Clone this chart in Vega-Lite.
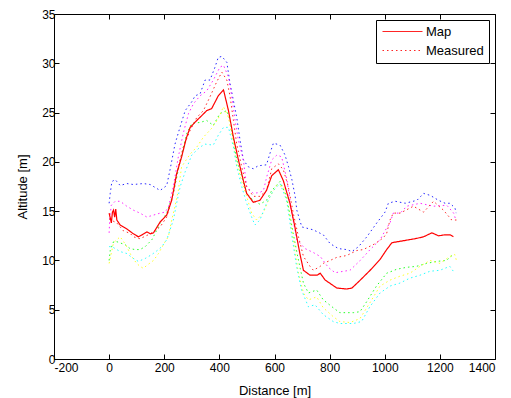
{
  "$schema": "https://vega.github.io/schema/vega-lite/v6.json",
  "width": 441,
  "height": 345,
  "autosize": {"type": "none"},
  "padding": {"left": 54, "top": 14, "right": 16, "bottom": 39},
  "background": "white",
  "config": {
    "view": {"stroke": "black", "strokeWidth": 1},
    "axis": {
      "domain": false, "grid": false,
      "tickSize": -5, "tickColor": "black", "tickWidth": 1,
      "labelFont": "Liberation Sans", "labelFontSize": 12, "labelColor": "black",
      "titleFont": "Liberation Sans", "titleFontSize": 13, "titleFontWeight": "normal", "titleColor": "black"
    },
    "legend": {
      "orient": "top-right", "offset": 6,
      "strokeColor": "black", "fillColor": "white", "padding": 5,
      "symbolType": "M-1,0H7", "symbolSize": 100,
      "symbolStrokeColor": "#ff0000", "symbolFillColor": "transparent", "symbolStrokeWidth": 1,
      "labelOffset": 32, "labelFont": "Liberation Sans", "labelFontSize": 13, "labelColor": "black",
      "rowPadding": 5
    }
  },
  "resolve": {"axis": {"x": "independent", "y": "independent"}},
  "layer": [
    {
      "data": {"values": [
        {"s":"m1","d":0,"a":15.8},{"s":"m1","d":4,"a":16.8},{"s":"m1","d":10,"a":18.0},{"s":"m1","d":22,"a":18.2},{"s":"m1","d":40,"a":17.6},{"s":"m1","d":64,"a":17.8},{"s":"m1","d":88,"a":17.7},{"s":"m1","d":124,"a":17.8},{"s":"m1","d":149,"a":17.7},{"s":"m1","d":173,"a":17.3},{"s":"m1","d":185,"a":17.1},{"s":"m1","d":209,"a":17.6},{"s":"m1","d":221,"a":19.2},{"s":"m1","d":239,"a":21.8},{"s":"m1","d":257,"a":23.5},{"s":"m1","d":276,"a":25.2},{"s":"m1","d":300,"a":26.1},{"s":"m1","d":312,"a":26.7},{"s":"m1","d":330,"a":26.9},{"s":"m1","d":348,"a":28.3},{"s":"m1","d":366,"a":28.3},{"s":"m1","d":384,"a":29.6},{"s":"m1","d":396,"a":30.6},{"s":"m1","d":409,"a":30.7},{"s":"m1","d":427,"a":30.1},{"s":"m1","d":439,"a":27.9},{"s":"m1","d":451,"a":26.2},{"s":"m1","d":463,"a":24.5},{"s":"m1","d":475,"a":22.2},{"s":"m1","d":487,"a":20.2},{"s":"m1","d":505,"a":19.5},{"s":"m1","d":523,"a":19.3},{"s":"m1","d":541,"a":19.6},{"s":"m1","d":571,"a":19.7},{"s":"m1","d":584,"a":20.9},{"s":"m1","d":596,"a":21.9},{"s":"m1","d":620,"a":21.7},{"s":"m1","d":638,"a":20.7},{"s":"m1","d":651,"a":19.5},{"s":"m1","d":663,"a":18.2},{"s":"m1","d":675,"a":16.5},{"s":"m1","d":681,"a":15.1},{"s":"m1","d":699,"a":13.4},{"s":"m1","d":741,"a":13.1},{"s":"m1","d":777,"a":12.6},{"s":"m1","d":802,"a":11.7},{"s":"m1","d":832,"a":11.2},{"s":"m1","d":862,"a":11.1},{"s":"m1","d":881,"a":10.9},{"s":"m1","d":905,"a":11.4},{"s":"m1","d":935,"a":12.4},{"s":"m1","d":971,"a":13.8},{"s":"m1","d":1001,"a":14.9},{"s":"m1","d":1013,"a":15.8},{"s":"m1","d":1038,"a":16.0},{"s":"m1","d":1074,"a":15.8},{"s":"m1","d":1117,"a":16.1},{"s":"m1","d":1141,"a":16.8},{"s":"m1","d":1165,"a":16.6},{"s":"m1","d":1195,"a":16.1},{"s":"m1","d":1219,"a":15.8},{"s":"m1","d":1237,"a":15.8},{"s":"m1","d":1255,"a":15.3},{"s":"m1","d":1259,"a":14.8},
        {"s":"m2","d":0,"a":12.8},{"s":"m2","d":3,"a":14.5},{"s":"m2","d":8,"a":15.6},{"s":"m2","d":22,"a":16.0},{"s":"m2","d":40,"a":16.0},{"s":"m2","d":64,"a":15.5},{"s":"m2","d":88,"a":15.1},{"s":"m2","d":112,"a":14.8},{"s":"m2","d":137,"a":14.4},{"s":"m2","d":161,"a":14.6},{"s":"m2","d":185,"a":14.8},{"s":"m2","d":203,"a":14.9},{"s":"m2","d":215,"a":15.4},{"s":"m2","d":233,"a":17.5},{"s":"m2","d":251,"a":20.5},{"s":"m2","d":269,"a":22.9},{"s":"m2","d":288,"a":24.9},{"s":"m2","d":306,"a":25.9},{"s":"m2","d":330,"a":26.7},{"s":"m2","d":354,"a":27.2},{"s":"m2","d":378,"a":28.3},{"s":"m2","d":402,"a":29.6},{"s":"m2","d":415,"a":29.8},{"s":"m2","d":433,"a":28.6},{"s":"m2","d":445,"a":26.6},{"s":"m2","d":457,"a":24.2},{"s":"m2","d":469,"a":22.2},{"s":"m2","d":487,"a":20.2},{"s":"m2","d":499,"a":17.5},{"s":"m2","d":523,"a":16.8},{"s":"m2","d":547,"a":16.9},{"s":"m2","d":560,"a":17.1},{"s":"m2","d":572,"a":18.5},{"s":"m2","d":590,"a":20.2},{"s":"m2","d":609,"a":20.7},{"s":"m2","d":626,"a":20.5},{"s":"m2","d":645,"a":18.2},{"s":"m2","d":663,"a":14.8},{"s":"m2","d":681,"a":12.1},{"s":"m2","d":711,"a":11.2},{"s":"m2","d":741,"a":10.8},{"s":"m2","d":766,"a":10.4},{"s":"m2","d":795,"a":9.3},{"s":"m2","d":820,"a":8.75},{"s":"m2","d":850,"a":8.9},{"s":"m2","d":874,"a":9.0},{"s":"m2","d":911,"a":10.0},{"s":"m2","d":947,"a":11.1},{"s":"m2","d":983,"a":12.1},{"s":"m2","d":1007,"a":13.3},{"s":"m2","d":1019,"a":13.8},{"s":"m2","d":1031,"a":14.8},{"s":"m2","d":1056,"a":14.8},{"s":"m2","d":1080,"a":15.5},{"s":"m2","d":1128,"a":15.8},{"s":"m2","d":1177,"a":15.5},{"s":"m2","d":1225,"a":15.6},{"s":"m2","d":1250,"a":14.8},{"s":"m2","d":1258,"a":14.1},
        {"s":"m3","d":0,"a":14.2},{"s":"m3","d":28,"a":13.8},{"s":"m3","d":52,"a":13.0},{"s":"m3","d":76,"a":12.75},{"s":"m3","d":88,"a":12.4},{"s":"m3","d":112,"a":12.2},{"s":"m3","d":149,"a":12.7},{"s":"m3","d":185,"a":13.4},{"s":"m3","d":209,"a":14.4},{"s":"m3","d":233,"a":16.8},{"s":"m3","d":251,"a":19.5},{"s":"m3","d":269,"a":21.5},{"s":"m3","d":294,"a":23.2},{"s":"m3","d":318,"a":24.5},{"s":"m3","d":342,"a":25.2},{"s":"m3","d":366,"a":26.6},{"s":"m3","d":390,"a":28.1},{"s":"m3","d":409,"a":29.1},{"s":"m3","d":427,"a":28.3},{"s":"m3","d":439,"a":26.6},{"s":"m3","d":451,"a":24.2},{"s":"m3","d":463,"a":21.8},{"s":"m3","d":481,"a":19.5},{"s":"m3","d":499,"a":17.5},{"s":"m3","d":523,"a":16.5},{"s":"m3","d":547,"a":16.5},{"s":"m3","d":571,"a":17.1},{"s":"m3","d":590,"a":19.3},{"s":"m3","d":614,"a":19.8},{"s":"m3","d":632,"a":19.2},{"s":"m3","d":650,"a":17.5},{"s":"m3","d":668,"a":14.8},{"s":"m3","d":687,"a":12.4},{"s":"m3","d":705,"a":10.4},{"s":"m3","d":729,"a":9.4},{"s":"m3","d":741,"a":9.0},{"s":"m3","d":766,"a":9.4},{"s":"m3","d":777,"a":9.7},{"s":"m3","d":802,"a":10.0},{"s":"m3","d":825,"a":10.3},{"s":"m3","d":862,"a":10.5},{"s":"m3","d":898,"a":11.0},{"s":"m3","d":922,"a":11.1},{"s":"m3","d":965,"a":11.7},{"s":"m3","d":995,"a":12.3},{"s":"m3","d":1007,"a":12.75},{"s":"m3","d":1019,"a":14.1},{"s":"m3","d":1031,"a":14.8},{"s":"m3","d":1056,"a":14.8},{"s":"m3","d":1104,"a":15.5},{"s":"m3","d":1141,"a":14.9},{"s":"m3","d":1177,"a":16.0},{"s":"m3","d":1213,"a":15.1},{"s":"m3","d":1243,"a":14.1},{"s":"m3","d":1262,"a":14.1},
        {"s":"m4","d":0,"a":10.0},{"s":"m4","d":4,"a":11.0},{"s":"m4","d":16,"a":11.9},{"s":"m4","d":28,"a":11.9},{"s":"m4","d":58,"a":11.6},{"s":"m4","d":76,"a":11.2},{"s":"m4","d":94,"a":11.1},{"s":"m4","d":112,"a":11.1},{"s":"m4","d":131,"a":11.4},{"s":"m4","d":155,"a":12.1},{"s":"m4","d":167,"a":12.75},{"s":"m4","d":185,"a":13.8},{"s":"m4","d":209,"a":14.8},{"s":"m4","d":233,"a":16.8},{"s":"m4","d":251,"a":19.2},{"s":"m4","d":282,"a":22.9},{"s":"m4","d":300,"a":23.9},{"s":"m4","d":330,"a":24.0},{"s":"m4","d":354,"a":24.2},{"s":"m4","d":378,"a":23.7},{"s":"m4","d":402,"a":24.9},{"s":"m4","d":427,"a":25.2},{"s":"m4","d":439,"a":24.2},{"s":"m4","d":451,"a":22.2},{"s":"m4","d":463,"a":20.2},{"s":"m4","d":481,"a":18.5},{"s":"m4","d":499,"a":16.8},{"s":"m4","d":523,"a":16.1},{"s":"m4","d":547,"a":15.7},{"s":"m4","d":571,"a":16.1},{"s":"m4","d":590,"a":17.1},{"s":"m4","d":620,"a":18.0},{"s":"m4","d":644,"a":16.5},{"s":"m4","d":668,"a":12.7},{"s":"m4","d":687,"a":10.0},{"s":"m4","d":705,"a":7.7},{"s":"m4","d":723,"a":6.7},{"s":"m4","d":753,"a":7.0},{"s":"m4","d":777,"a":6.0},{"s":"m4","d":813,"a":5.2},{"s":"m4","d":837,"a":4.7},{"s":"m4","d":886,"a":4.7},{"s":"m4","d":910,"a":4.8},{"s":"m4","d":934,"a":5.8},{"s":"m4","d":970,"a":7.4},{"s":"m4","d":1007,"a":8.7},{"s":"m4","d":1043,"a":9.1},{"s":"m4","d":1079,"a":9.3},{"s":"m4","d":1115,"a":9.4},{"s":"m4","d":1152,"a":9.7},{"s":"m4","d":1188,"a":9.9},{"s":"m4","d":1224,"a":10.0},{"s":"m4","d":1248,"a":10.6},
        {"s":"m5","d":0,"a":9.7},{"s":"m5","d":16,"a":11.8},{"s":"m5","d":40,"a":12.4},{"s":"m5","d":60,"a":11.6},{"s":"m5","d":82,"a":10.4},{"s":"m5","d":100,"a":9.7},{"s":"m5","d":112,"a":9.4},{"s":"m5","d":124,"a":9.2},{"s":"m5","d":137,"a":9.5},{"s":"m5","d":161,"a":10.0},{"s":"m5","d":179,"a":10.7},{"s":"m5","d":203,"a":11.9},{"s":"m5","d":215,"a":12.4},{"s":"m5","d":227,"a":14.1},{"s":"m5","d":239,"a":15.5},{"s":"m5","d":251,"a":17.1},{"s":"m5","d":263,"a":19.5},{"s":"m5","d":294,"a":20.8},{"s":"m5","d":318,"a":21.5},{"s":"m5","d":342,"a":22.5},{"s":"m5","d":372,"a":23.4},{"s":"m5","d":396,"a":24.4},{"s":"m5","d":415,"a":25.6},{"s":"m5","d":433,"a":24.5},{"s":"m5","d":451,"a":21.8},{"s":"m5","d":463,"a":19.8},{"s":"m5","d":481,"a":18.0},{"s":"m5","d":499,"a":16.5},{"s":"m5","d":517,"a":14.8},{"s":"m5","d":535,"a":14.1},{"s":"m5","d":559,"a":14.8},{"s":"m5","d":584,"a":16.5},{"s":"m5","d":608,"a":17.6},{"s":"m5","d":632,"a":17.5},{"s":"m5","d":650,"a":15.4},{"s":"m5","d":668,"a":12.1},{"s":"m5","d":687,"a":8.7},{"s":"m5","d":705,"a":6.7},{"s":"m5","d":723,"a":6.0},{"s":"m5","d":753,"a":6.3},{"s":"m5","d":777,"a":5.2},{"s":"m5","d":813,"a":4.3},{"s":"m5","d":837,"a":3.8},{"s":"m5","d":874,"a":3.7},{"s":"m5","d":910,"a":4.1},{"s":"m5","d":946,"a":5.7},{"s":"m5","d":983,"a":7.4},{"s":"m5","d":1019,"a":8.0},{"s":"m5","d":1055,"a":8.4},{"s":"m5","d":1091,"a":8.7},{"s":"m5","d":1128,"a":9.4},{"s":"m5","d":1164,"a":10.0},{"s":"m5","d":1200,"a":9.7},{"s":"m5","d":1236,"a":10.4},{"s":"m5","d":1254,"a":10.6},{"s":"m5","d":1260,"a":10.0},
        {"s":"m6","d":0,"a":11.4},{"s":"m6","d":10,"a":11.4},{"s":"m6","d":40,"a":10.9},{"s":"m6","d":64,"a":10.7},{"s":"m6","d":88,"a":10.2},{"s":"m6","d":106,"a":9.9},{"s":"m6","d":131,"a":10.2},{"s":"m6","d":155,"a":10.6},{"s":"m6","d":179,"a":11.1},{"s":"m6","d":191,"a":11.4},{"s":"m6","d":209,"a":12.1},{"s":"m6","d":221,"a":13.1},{"s":"m6","d":233,"a":14.1},{"s":"m6","d":245,"a":15.8},{"s":"m6","d":258,"a":17.5},{"s":"m6","d":276,"a":19.0},{"s":"m6","d":300,"a":20.7},{"s":"m6","d":330,"a":21.5},{"s":"m6","d":348,"a":21.8},{"s":"m6","d":378,"a":21.7},{"s":"m6","d":396,"a":22.7},{"s":"m6","d":415,"a":23.5},{"s":"m6","d":433,"a":23.5},{"s":"m6","d":451,"a":21.5},{"s":"m6","d":463,"a":19.5},{"s":"m6","d":481,"a":17.5},{"s":"m6","d":499,"a":15.8},{"s":"m6","d":517,"a":14.4},{"s":"m6","d":529,"a":13.6},{"s":"m6","d":547,"a":14.1},{"s":"m6","d":571,"a":15.8},{"s":"m6","d":596,"a":17.1},{"s":"m6","d":620,"a":17.8},{"s":"m6","d":644,"a":16.1},{"s":"m6","d":662,"a":12.7},{"s":"m6","d":680,"a":9.4},{"s":"m6","d":698,"a":7.0},{"s":"m6","d":723,"a":5.3},{"s":"m6","d":747,"a":5.5},{"s":"m6","d":777,"a":4.5},{"s":"m6","d":813,"a":3.8},{"s":"m6","d":837,"a":3.6},{"s":"m6","d":886,"a":3.6},{"s":"m6","d":916,"a":3.8},{"s":"m6","d":946,"a":5.3},{"s":"m6","d":983,"a":6.7},{"s":"m6","d":1019,"a":7.4},{"s":"m6","d":1055,"a":7.7},{"s":"m6","d":1091,"a":8.2},{"s":"m6","d":1128,"a":8.5},{"s":"m6","d":1164,"a":8.9},{"s":"m6","d":1200,"a":9.0},{"s":"m6","d":1236,"a":9.4},{"s":"m6","d":1254,"a":8.7}
      ]},
      "transform": [{"calculate": "'Measured'", "as": "kind"}],
      "mark": {"type": "line", "strokeWidth": 1, "opacity": 0.85},
      "encoding": {
        "x": {"field": "d", "type": "quantitative",
              "scale": {"domain": [-200, 1400], "nice": false, "zero": false},
              "axis": {"orient": "bottom", "values": [-200,0,200,400,600,800,1000,1200,1400], "labelExpr": "'' + datum.value", "title": "Distance [m]", "labelPadding": 8, "titlePadding": 11}},
        "y": {"field": "a", "type": "quantitative",
              "scale": {"domain": [0, 35], "nice": false},
              "axis": {"orient": "left", "values": [0,5,10,15,20,25,30,35], "labelExpr": "'' + datum.value", "title": "Altitude [m]", "labelPadding": 4, "titlePadding": 12}},
        "detail": {"field": "s"},
        "color": {"field": "s", "type": "nominal", "legend": null,
                  "scale": {"domain": ["m1","m2","m3","m4","m5","m6"], "range": ["#0000ff","#ff00ff","#ff0000","#00ff00","#ffff00","#00ffff"]}},
        "strokeDash": {"field": "kind", "type": "nominal",
                       "scale": {"domain": ["Map", "Measured"], "range": [[1, 0], [1.5, 3]]},
                       "legend": {"title": null, "symbolStrokeColor": "#ff0000", "symbolStrokeWidth": 1.2}}
      }
    },
    {
      "data": {"values": [
        {"d":0,"a":14.8},{"d":5,"a":14.2},{"d":8,"a":13.8},{"d":12,"a":14.9},{"d":16,"a":15.1},{"d":20,"a":14.4},{"d":24,"a":15.2},{"d":28,"a":14.1},{"d":40,"a":13.6},{"d":64,"a":13.2},{"d":88,"a":12.7},{"d":106,"a":12.4},{"d":120,"a":12.6},{"d":137,"a":12.9},{"d":150,"a":12.7},{"d":161,"a":12.8},{"d":185,"a":13.9},{"d":209,"a":14.6},{"d":227,"a":16.1},{"d":245,"a":18.8},{"d":263,"a":20.5},{"d":280,"a":22.4},{"d":294,"a":23.5},{"d":318,"a":24.2},{"d":340,"a":24.8},{"d":354,"a":25.2},{"d":372,"a":25.4},{"d":396,"a":26.7},{"d":415,"a":27.3},{"d":433,"a":25.2},{"d":451,"a":22.5},{"d":469,"a":20.2},{"d":487,"a":18.1},{"d":499,"a":16.8},{"d":523,"a":15.9},{"d":547,"a":16.1},{"d":571,"a":17.1},{"d":590,"a":18.6},{"d":614,"a":19.2},{"d":632,"a":18.1},{"d":656,"a":15.8},{"d":674,"a":13.4},{"d":692,"a":10.7},{"d":705,"a":9.0},{"d":729,"a":8.5},{"d":754,"a":8.5},{"d":766,"a":8.7},{"d":784,"a":8.0},{"d":800,"a":7.7},{"d":826,"a":7.2},{"d":862,"a":7.1},{"d":881,"a":7.2},{"d":911,"a":8.0},{"d":947,"a":9.0},{"d":983,"a":10.1},{"d":1007,"a":11.1},{"d":1026,"a":11.8},{"d":1068,"a":12.0},{"d":1110,"a":12.2},{"d":1141,"a":12.4},{"d":1171,"a":12.8},{"d":1195,"a":12.5},{"d":1219,"a":12.6},{"d":1237,"a":12.6},{"d":1249,"a":12.4}
      ]},
      "transform": [{"calculate": "'Map'", "as": "kind"}],
      "mark": {"type": "line", "strokeWidth": 1.2, "color": "#ff0000"},
      "encoding": {
        "x": {"field": "d", "type": "quantitative",
              "axis": {"orient": "top", "values": [-200,0,200,400,600,800,1000,1200,1400], "labels": false, "title": null}},
        "y": {"field": "a", "type": "quantitative",
              "axis": {"orient": "right", "values": [0,5,10,15,20,25,30,35], "labels": false, "title": null}},
        "strokeDash": {"field": "kind", "type": "nominal"}
      }
    }
  ]
}
